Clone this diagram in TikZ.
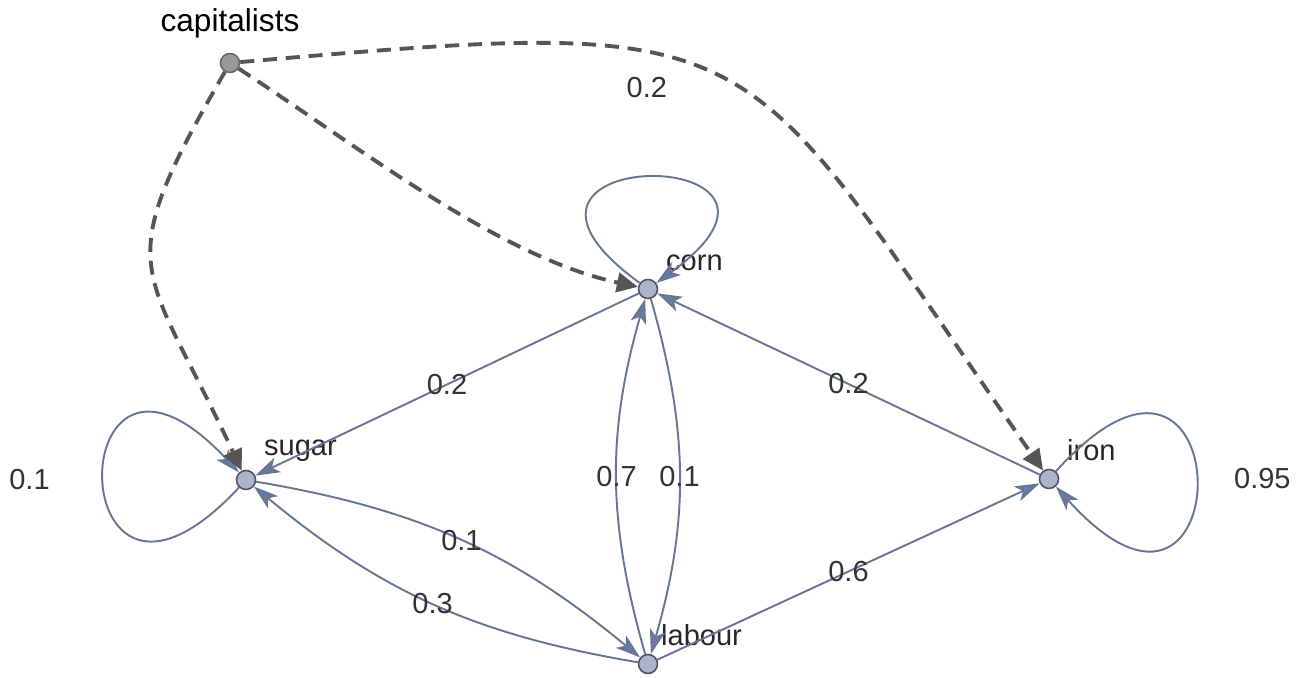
\documentclass[tikz,border=0pt]{standalone}
\usepackage{fontspec}
\setmainfont{Liberation Sans}
\usetikzlibrary{arrows.meta, positioning}
\definecolor{edgeblue}{RGB}{104,118,146}
\definecolor{tipblue}{RGB}{100,122,168}
\definecolor{vfill}{RGB}{172,180,202}
\definecolor{vdraw}{RGB}{78,84,100}
\definecolor{capgray}{RGB}{85,85,85}

\begin{document}
\begin{tikzpicture}[x=0.02cm, y=0.02cm,
  vertex/.style={circle, draw=vdraw, fill=vfill, line width=0.9pt,
                 minimum size=0.38cm, inner sep=0pt},
  capvertex/.style={vertex, draw=black!60, fill=black!40},
  vlabel/.style={font=\fontsize{16.5}{18}\selectfont, text=black!85,
                 anchor=south west, inner sep=0pt, label distance=0.3cm},
  num/.style={font=\fontsize{16.5}{18}\selectfont, text=black!80, inner sep=0pt},
  arrow/.style={draw=edgeblue, line width=1.1pt,
                -{Stealth[length=14pt, width=9pt, inset=3.5pt, fill=tipblue]}},
  dasharrow/.style={draw=capgray, line width=2.2pt, dash pattern=on 8pt off 5pt,
                    -{Triangle[length=12pt, width=11pt]}},
]
  \useasboundingbox (0,0) rectangle (1298,678);

  % vertices
  \node[capvertex, label={[font=\fontsize{18}{20}\selectfont, label distance=0.16cm]above:capitalists}] (cap) at (230,615) {};
  \node[vertex, label={[vlabel]45:corn}] (corn) at (648,389) {};
  \node[vertex, label={[vlabel]45:sugar}] (sugar) at (246,198) {};
  \node[vertex, label={[vlabel]45:iron}] (iron) at (1049,199) {};
  \node[vertex, label={[vlabel, xshift=-0.1cm]45:labour}] (labour) at (648,14) {};

  % flows
  \draw[arrow] (corn) -- node[num] {0.2} (sugar);
  \draw[arrow] (iron) -- node[num] {0.2} (corn);
  \draw[arrow] (labour) -- node[num] {0.6} (iron);
  \draw[arrow] (sugar) to[bend left=15] node[num] {0.1} (labour);
  \draw[arrow] (labour) to[bend left=15] node[num] {0.3} (sugar);
  \draw[arrow] (labour) to[bend left=16] node[num] {0.7} (corn);
  \draw[arrow] (corn) to[bend left=16] node[num] {0.1} (labour);

  % self loops
  \draw[arrow] (corn) .. controls +(144:5cm) and +(36:5cm) .. (corn);
  \draw[arrow] (sugar) .. controls +(227:5.5cm) and +(133:5.5cm) .. node[num, left=1.06cm] {0.1} (sugar);
  \draw[arrow] (iron) .. controls +(48:5.8cm) and +(-48:5.8cm) .. node[num, right=0.74cm] {0.95} (iron);

  % capitalists
  \draw[dasharrow] (cap) to[out=240, in=115, looseness=1.5] (sugar);
  \draw[dasharrow] (cap) to[out=-33, in=168, looseness=0.8] (corn);
  \draw[dasharrow] (cap) to[out=5, in=125, looseness=1.55] node[num, pos=0.37, below=0.46cm] {0.2} (iron);
\end{tikzpicture}
\end{document}
